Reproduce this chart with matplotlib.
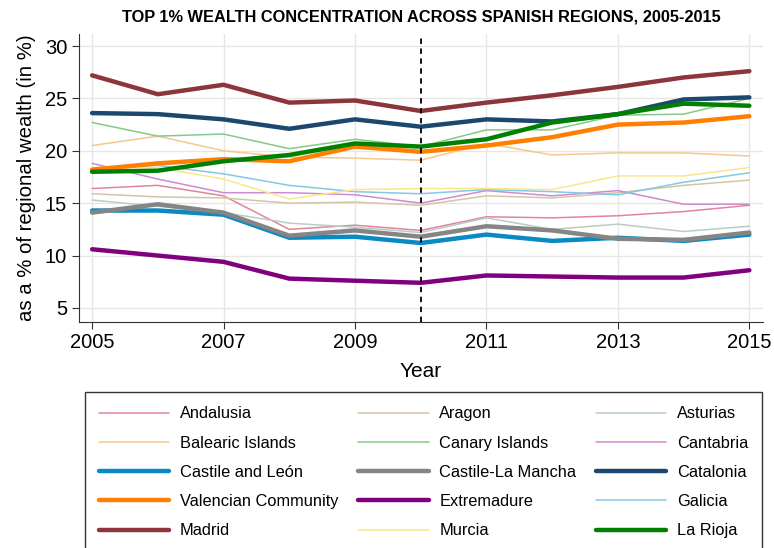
import matplotlib
matplotlib.use("Agg")
import matplotlib.pyplot as plt
from matplotlib import font_manager

years = list(range(2005, 2016))

regions = ["Andalusia", "Aragon", "Asturias",
           "Balearic Islands", "Canary Islands", "Cantabria",
           "Castile and León", "Castile-La Mancha", "Catalonia",
           "Valencian Community", "Extremadure", "Galicia",
           "Madrid", "Murcia", "La Rioja"]

andalusia = [16.4, 16.7, 15.7, 12.5, 12.9, 12.4, 13.7, 13.6, 13.8, 14.2, 14.8]
aragon = [15.9, 15.6, 15.5, 15.0, 15.1, 14.8, 15.7, 15.5, 16.0, 16.7, 17.2]
asturias = [15.3, 14.7, 14.1, 13.1, 12.7, 12.2, 13.6, 12.5, 13.0, 12.3, 12.8]
balearic = [20.5, 21.4, 20.0, 19.4, 19.3, 19.1, 20.7, 19.6, 19.8, 19.8, 19.5]
canary = [22.7, 21.4, 21.6, 20.2, 21.1, 20.4, 22.0, 22.0, 23.4, 23.5, 25.0]
cantabria = [18.8, 17.3, 16.0, 16.0, 15.8, 15.0, 16.2, 15.7, 16.2, 14.9, 14.9]
castile_leon = [14.3, 14.3, 13.9, 11.7, 11.8, 11.2, 12.0, 11.4, 11.7, 11.4, 12.0]
castile_lm = [14.1, 14.9, 14.1, 11.9, 12.4, 11.8, 12.8, 12.4, 11.6, 11.5, 12.2]
catalonia = [23.6, 23.5, 23.0, 22.1, 23.0, 22.3, 23.0, 22.8, 23.5, 24.9, 25.1]
valencia = [18.2, 18.8, 19.2, 19.0, 20.4, 19.9, 20.5, 21.3, 22.5, 22.7, 23.3]
extremadure = [10.6, 10.0, 9.4, 7.8, 7.6, 7.4, 8.1, 8.0, 7.9, 7.9, 8.6]
galicia = [18.3, 18.6, 17.8, 16.7, 16.1, 15.9, 16.3, 16.1, 15.8, 17.0, 17.9]
madrid = [27.2, 25.4, 26.3, 24.6, 24.8, 23.8, 24.6, 25.3, 26.1, 27.0, 27.6]
murcia = [18.4, 18.4, 17.3, 15.4, 16.3, 16.4, 16.4, 16.3, 17.6, 17.6, 18.4]
la_rioja = [18.0, 18.1, 19.0, 19.6, 20.7, 20.4, 21.1, 22.7, 23.5, 24.5, 24.3]

series = [andalusia, aragon, asturias, balearic, canary, cantabria,
          castile_leon, castile_lm, catalonia, valencia, extremadure, galicia,
          madrid, murcia, la_rioja]

colors = ["#e0859c", "#d4c6a4", "#b9cdc6",
          "#f6c88e", "#86c986", "#cf8ad0",
          "#0a8ac4", "#858585", "#1c476e",
          "#ff8000", "#800080", "#83c8e6",
          "#8c353c", "#fbe78a", "#008000"]

thick = ["Castile and León", "Castile-La Mancha", "Catalonia",
         "Valencian Community", "Extremadure", "Madrid", "La Rioja"]

installed = {f.name for f in font_manager.fontManager.ttflist}
base_font = "Liberation Sans" if "Liberation Sans" in installed else "DejaVu Sans"
title_font = "Liberation Sans Narrow" if "Liberation Sans Narrow" in installed else base_font
plt.rcParams['font.family'] = [base_font, 'DejaVu Sans']

fig = plt.figure(figsize=(7.74, 5.48), dpi=100)
ax = fig.add_axes([0.102, 0.413, 0.884, 0.525])

handles = []
for name, vals, c in zip(regions, series, colors):
    lw = 3.2 if name in thick else 1.1
    h, = ax.plot(years, vals, color=c, lw=lw, label=name, solid_capstyle='round',
                 zorder=3 if name in thick else 2)
    handles.append(h)

ax.axvline(2010, color='black', ls=(0, (3, 2.5)), lw=1.3, zorder=4)

ax.set_xlim(2004.8, 2015.21)
ax.set_ylim(3.69, 31.15)
ax.set_xticks([2005, 2007, 2009, 2011, 2013, 2015])
ax.set_yticks([5, 10, 15, 20, 25, 30])
ax.grid(True, color='#e6e6e6', lw=1, zorder=0)
ax.set_axisbelow(True)
for s in ['top', 'right']:
    ax.spines[s].set_visible(False)
for s in ['left', 'bottom']:
    ax.spines[s].set_color('#333333')
ax.tick_params(axis='both', labelsize=14.5, length=5, color='#333333', direction='out')
ax.set_xlabel('Year', fontsize=15, labelpad=7)
ax.set_ylabel('as a % of regional wealth (in %)', fontsize=14.7, labelpad=6)
ax.set_title('TOP 1% WEALTH CONCENTRATION ACROSS SPANISH REGIONS, 2005-2015',
             fontsize=11.8, fontweight='bold', family=[title_font, 'DejaVu Sans'], pad=9)

# legend reads row by row, matplotlib fills columns first
order = [i for col in range(3) for i in range(col, 15, 3)]
leg = ax.legend([handles[i] for i in order], [regions[i] for i in order],
                loc='upper left', ncol=3, mode='expand',
                bbox_to_anchor=(85 / 774, 1 - 393 / 548, (762 - 85) / 774, 0.001),
                bbox_transform=fig.transFigure, frameon=True, fancybox=False,
                edgecolor='black', fontsize=11.8, handlelength=4.3, handletextpad=0.65,
                labelspacing=0.87, borderpad=0.85, borderaxespad=0, columnspacing=1.0)
leg.get_frame().set_linewidth(1.0)
# pull the entries a little to the left inside the frame
leg._legend_box.align = "left"

fig.savefig('out.png', dpi=100)
